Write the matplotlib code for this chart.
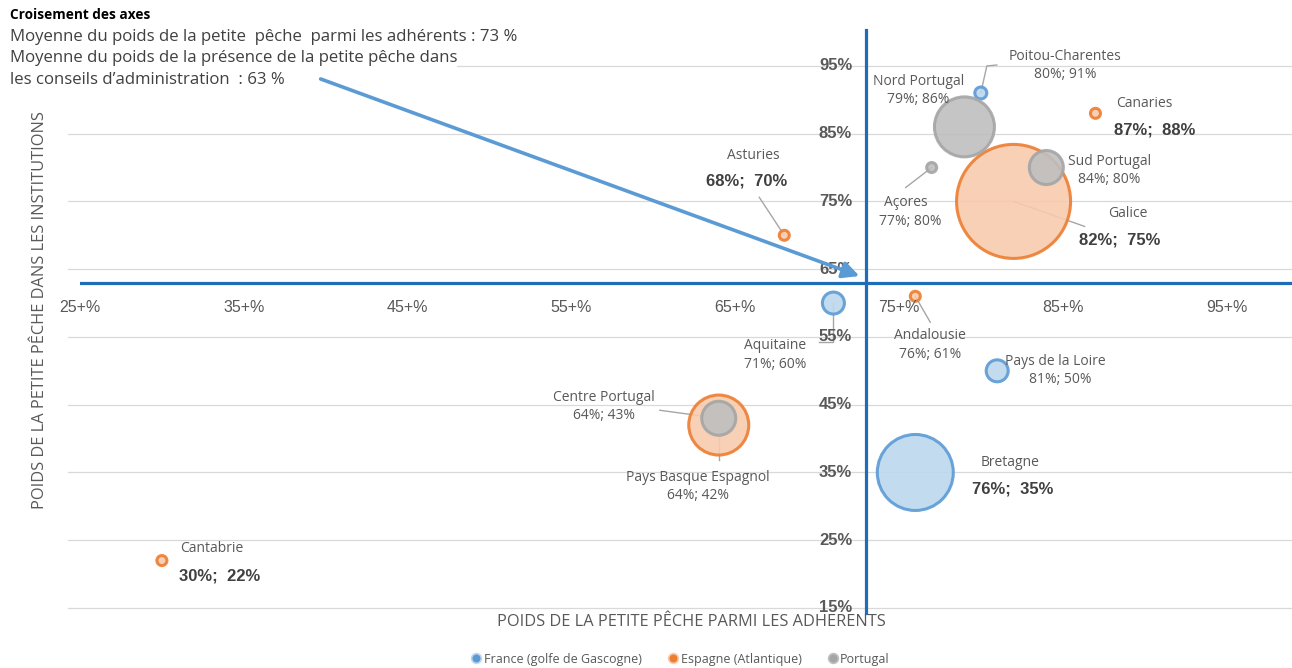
import matplotlib
matplotlib.use("Agg")
import matplotlib.pyplot as plt
from matplotlib.lines import Line2D
from matplotlib.patches import FancyArrowPatch, Rectangle

# donnees
regions = ["Poitou-Charentes", "Aquitaine", "Pays de la Loire", "Bretagne",
           "Canaries", "Galice", "Asturies", "Andalousie", "Pays Basque Espagnol", "Cantabrie",
           "Nord Portugal", "Sud Portugal", "Açores", "Centre Portugal"]
groupe = ["France", "France", "France", "France",
          "Espagne", "Espagne", "Espagne", "Espagne", "Espagne", "Espagne",
          "Portugal", "Portugal", "Portugal", "Portugal"]
adherents = [80, 71, 81, 76, 87, 82, 68, 76, 64, 30, 79, 84, 77, 64]
institutions = [91, 60, 50, 35, 88, 75, 70, 61, 42, 22, 86, 80, 80, 43]
taille = [36, 121, 121, 1444, 25, 3250, 25, 25, 900, 25, 900, 290, 25, 290]
moy_adherents = 73
moy_institutions = 63
x_ticks = [25, 35, 45, 55, 65, 75, 85, 95]
y_ticks = [15, 25, 35, 45, 55, 65, 75, 85, 95]
legende = {"France": "France (golfe de Gascogne)", "Espagne": "Espagne (Atlantique)", "Portugal": "Portugal"}

# styles
couleurs = {"France": ("#BDD7EE", "#5B9BD5"),
            "Espagne": ("#F8CBAD", "#ED7D31"),
            "Portugal": ("#BFBFBF", "#A5A5A5")}
grands = {"Canaries", "Galice", "Asturies", "Bretagne", "Cantabrie"}
# position des etiquettes en pixels (dx, dy vers le bas) : nom, valeur, ligne de rappel
etiq = {
    "Poitou-Charentes": ((84, -36), (84, -18), [(0, 0), (6, -27), (16, -28)]),
    "Aquitaine": ((-58, 42), (-58, 61), [(0, 0), (0, 39), (-14, 39)]),
    "Pays de la Loire": ((58, -9), (63, 9), None),
    "Bretagne": ((95, -10), (97, 17), None),
    "Canaries": ((49, -10), (59, 17), None),
    "Galice": ((114, 12), (106, 39), [(0, 0), (71, 25)]),
    "Asturies": ((-31, -80), (-38, -54), [(0, 0), (-25, -38)]),
    "Andalousie": ((15, 39), (15, 58), [(0, 0), (15, 26)]),
    "Pays Basque Espagnol": ((-21, 52), (-21, 70), [(0, 0), (0, 35)]),
    "Cantabrie": ((50, -12), (58, 15), None),
    "Nord Portugal": ((-46, -45), (-46, -27), None),
    "Sud Portugal": ((63, -6), (63, 12), None),
    "Açores": ((-26, 35), (-21, 54), [(0, 0), (-26, 20)]),
    "Centre Portugal": ((-115, -21), (-115, -3), [(0, 0), (-59, -8)]),
}

W, H = 1292, 668
fig = plt.figure(figsize=(W / 100, H / 100), dpi=100)
ax = fig.add_axes([80 / W, 60 / H, (W - 80) / W, 576 / H])
ax.set_xlim(25, 99)
ax.set_ylim(15, 100)
ax.axis("off")

for v in y_ticks:
    ax.axhline(v, xmin=-0.01, color="#D9D9D9", lw=0.9, zorder=0, clip_on=False)

bleu = "#1F6DB8"
ax.axvline(moy_adherents, ymin=-0.008, ymax=1.004, color=bleu, lw=2.3, zorder=6, clip_on=False)
ax.axhline(moy_institutions, color=bleu, lw=2.3, zorder=6)

# bulles : France, puis Espagne, puis Portugal
k = (2 * 0.72) ** 2
for g in ["France", "Espagne", "Portugal"]:
    idx = [i for i in range(len(regions)) if groupe[i] == g]
    fc, ec = couleurs[g]
    ax.scatter([adherents[i] for i in idx], [institutions[i] for i in idx],
               s=[taille[i] * k for i in idx], facecolor=fc, edgecolor=ec,
               linewidth=2.2, alpha=0.9, zorder=3)

lab_font = "Open Sans"
for i, r in enumerate(regions):
    (nx, ny), (vx, vy), lead = etiq[r]
    xy = (adherents[i], institutions[i])
    ax.annotate(r, xy, xytext=(nx, -ny), textcoords="offset pixels", ha="center", va="center",
                fontsize=10, family=lab_font, color="#595959", zorder=7)
    if r in grands:
        val = f"{adherents[i]}%;  {institutions[i]}%"
        ax.annotate(val, xy, xytext=(vx, -vy), textcoords="offset pixels", ha="center", va="center",
                    fontsize=12, family="Liberation Sans", weight="bold", color="#404040", zorder=7)
    else:
        val = f"{adherents[i]}%; {institutions[i]}%"
        ax.annotate(val, xy, xytext=(vx, -vy), textcoords="offset pixels", ha="center", va="center",
                    fontsize=10, family=lab_font, color="#595959", zorder=7)
    if lead:
        px, py = ax.transData.transform(xy)
        xs = [px + dx for dx, dy in lead]
        ys = [py - dy for dx, dy in lead]
        pts = ax.transData.inverted().transform(list(zip(xs, ys)))
        ax.plot(pts[:, 0], pts[:, 1], color="#A6A6A6", lw=1.0, zorder=2)

# etiquettes des axes au croisement
for v in x_ticks:
    ax.annotate(f"{v}+%", (v, moy_institutions), xytext=(0, -25), textcoords="offset pixels",
                ha="center", va="center", fontsize=11.5, family="Liberation Sans", color="#595959", zorder=7)
for v in y_ticks:
    ax.annotate(f"{v}%", (moy_adherents, v), xytext=(-14, 0), textcoords="offset pixels",
                ha="right", va="center", fontsize=12, family="Liberation Sans", weight="bold",
                color="#595959", zorder=5)

fig.text(691 / W, 1 - 622 / H, "POIDS DE LA PETITE PÊCHE PARMI LES ADHERENTS", ha="center", va="center",
         fontsize=11.8, family=lab_font, color="#595959")
fig.text(40 / W, 1 - 310 / H, "POIDS DE LA PETITE PÊCHE DANS LES INSTITUTIONS", ha="center", va="center",
         rotation=90, fontsize=11.8, family=lab_font, color="#595959")

# encadre en haut a gauche
fig.add_artist(Rectangle((0, 1 - 92 / H), 457 / W, 92 / H, transform=fig.transFigure,
                         facecolor="white", edgecolor="none", zorder=2))
fig.text(10 / W, 1 - 15 / H, "Croisement des axes", ha="left", va="center", fontsize=9.8,
         family=lab_font, weight="bold", color="black", zorder=3)
lignes = ["Moyenne du poids de la petite  pêche  parmi les adhérents : 73 %",
          "Moyenne du poids de la présence de la petite pêche dans",
          "les conseils d’administration  : 63 %"]
for j, t in enumerate(lignes):
    fig.text(10 / W, 1 - (37 + 21.5 * j) / H, t, ha="left", va="center", fontsize=12.1,
             family=lab_font, color="#404040", zorder=3)

fig.add_artist(FancyArrowPatch((318 / W, 1 - 78 / H), (862 / W, 1 - 277 / H), transform=fig.transFigure,
                               arrowstyle="-|>,head_length=10,head_width=5", mutation_scale=1,
                               color="#5B9BD5", lw=2.6, zorder=4))

handles = [Line2D([], [], marker="o", ls="", markersize=7, markerfacecolor=couleurs[g][1],
                  markeredgecolor=couleurs[g][0], markeredgewidth=1.2, label=legende[g])
           for g in ["France", "Espagne", "Portugal"]]
fig.legend(handles=handles, loc="center", bbox_to_anchor=(680 / W, 1 - 659 / H), ncol=3, frameon=False,
           prop={"family": lab_font, "size": 9}, labelcolor="#595959", handletextpad=0.1,
           columnspacing=2.0, handlelength=1.0)

fig.savefig("out.png", dpi=100)
